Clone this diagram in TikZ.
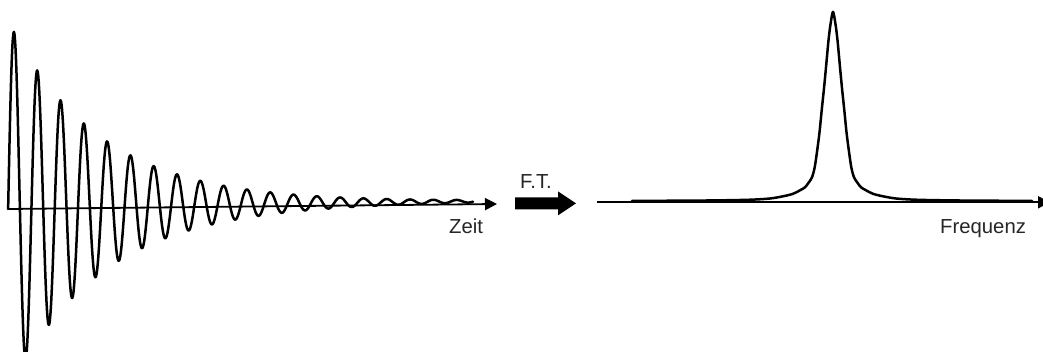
\documentclass[tikz,border=0pt]{standalone}
\usepackage{fontspec}
\setmainfont{Liberation Sans}
\usetikzlibrary{arrows.meta}
\begin{document}
\begin{tikzpicture}[x=1pt,y=-1pt,
  axis/.style={line width=1.8pt, -{Triangle[length=12pt,width=12pt]}},
  signal/.style={line width=2.5pt, line join=round, line cap=round},
  lbl/.style={inner sep=0pt, anchor=base west, font=\fontsize{20.3}{24}\selectfont, text=black!85}]
\clip (0,0) rectangle (1043,352);
\fill[white] (0,0) rectangle (1043,352);

% time domain: axis and decaying oscillation
\coordinate (t0) at (8,209);
\coordinate (t1) at (497,204);
\draw[axis] (t0) -- (t1);
\node[lbl] (zeit) at (449,234) {Zeit};
\draw[signal] (t0) -- plot[domain=8.2:473, samples=900, variable=\x]
  (\x, {209-0.010225*(\x-8)-3-174*exp(-0.0108*(\x-14))*sin(15.4506*(\x-8.2))});

% transform arrow
\coordinate (ft0) at (515,203.4);
\fill[shift={(ft0)}] (0,-6) -- (43,-6) -- (43,-12) -- (61,0) -- (43,12) -- (43,6) -- (0,6) -- cycle;
\node[lbl] (ft) at (520,189) {F.T.};

% frequency domain: axis and line shape
\coordinate (f0) at (597,202.3);
\coordinate (f1) at (1050,202.3);
\draw[axis] (f0) -- (f1);
\node[lbl] (freq) at (940,234) {Frequenz};
\draw[signal] plot[smooth, tension=0.5] coordinates {
  (632,200.8) (683,200.7) (723,200.3) (751,199.7) (770,198.5) (783,196.3)
  (793,193.8) (800,190.3) (805,187.3) (808.5,182.8) (812,177.3) (814.7,167.3)
  (817.2,150.3) (819.5,132.3) (821.7,110.3) (824,88.3) (826,67.3) (828.5,40.3)
  (830.5,24.3) (833,11.8)
  (835.5,24.3) (837.5,40.3) (840,67.3) (842,88.3) (844.3,110.3) (846.5,132.3)
  (848.8,150.3) (851.3,167.3) (854,177.3) (857.5,182.8) (861,187.3) (866,190.3)
  (873,193.8) (883,196.3) (896,198.5) (915,199.7) (943,200.3) (983,200.7)
  (1032,200.8)};
\end{tikzpicture}
\end{document}
